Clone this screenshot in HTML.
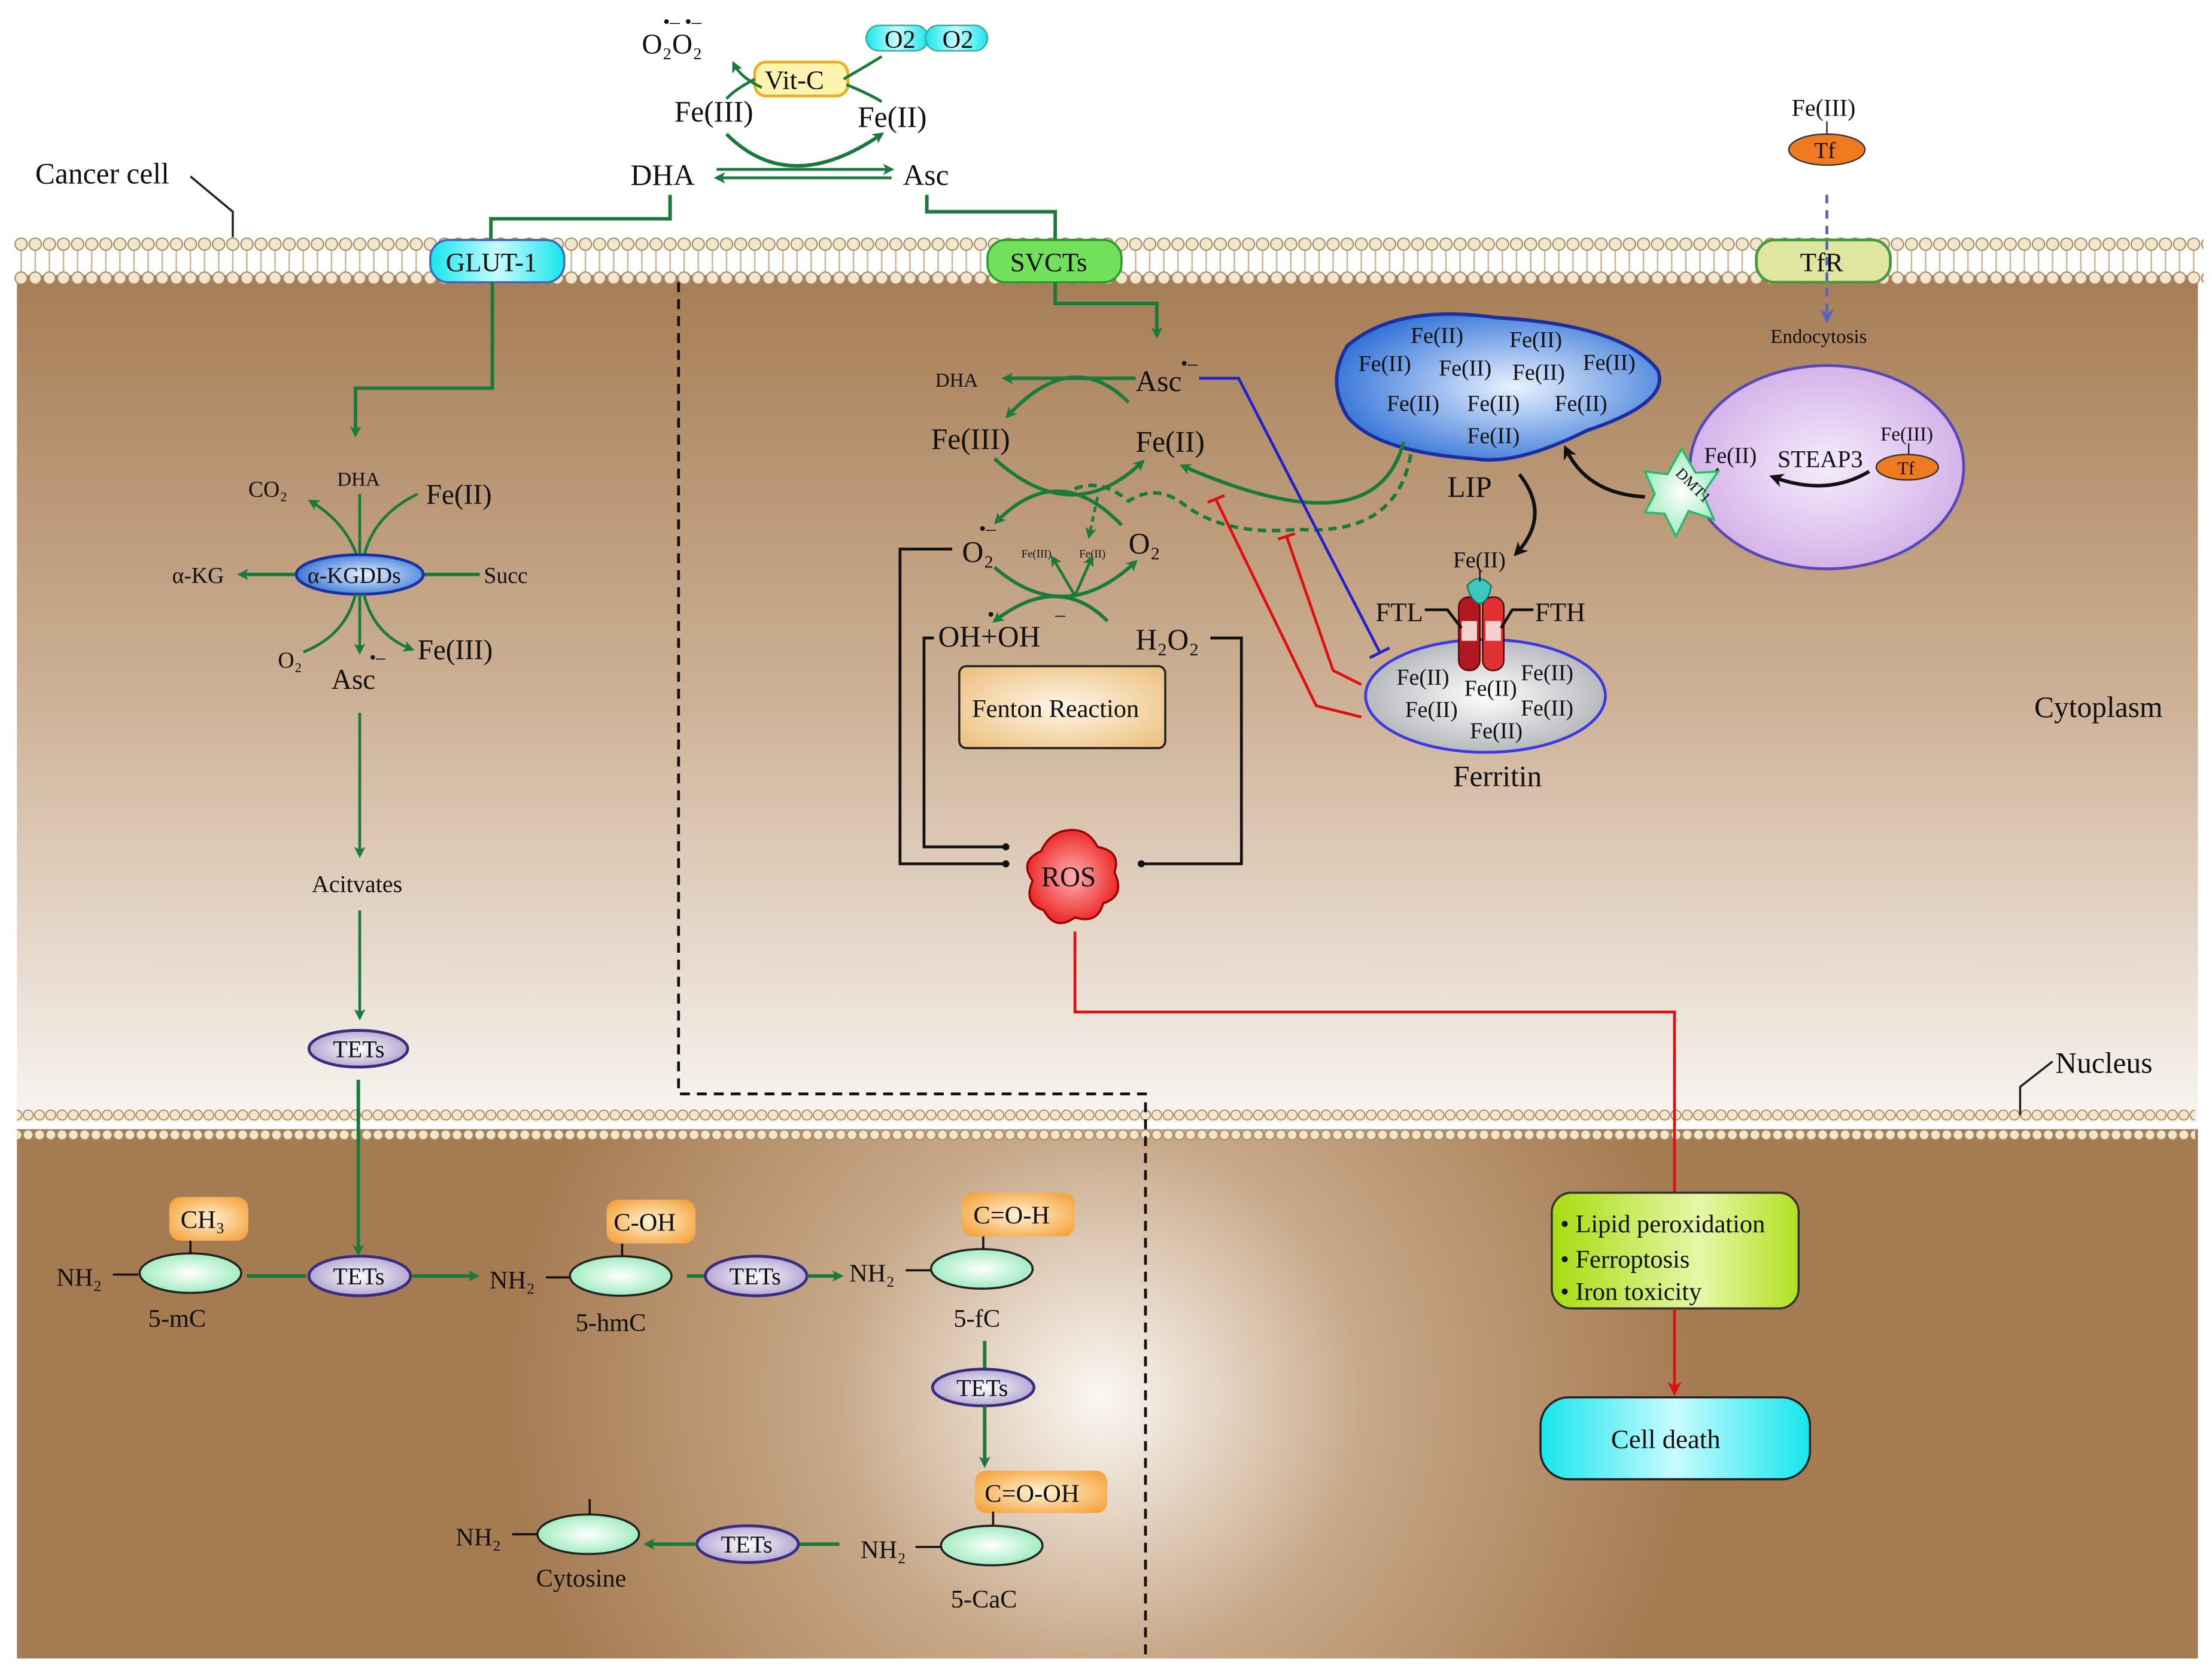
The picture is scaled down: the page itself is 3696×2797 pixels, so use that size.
<!DOCTYPE html>
<html><head><meta charset="utf-8"><style>
html,body{margin:0;padding:0;background:#fff}
svg{display:block}
text{font-family:"Liberation Serif","DejaVu Serif",serif;fill:#111}
</style></head><body>
<svg width="3696" height="2797" viewBox="0 0 1568 1186" preserveAspectRatio="none" xmlns="http://www.w3.org/2000/svg" font-family="Liberation Serif, DejaVu Serif, serif">
<defs>
<linearGradient id="cyto" x1="0" y1="0" x2="0" y2="1">
<stop offset="0" stop-color="#a67d55"/><stop offset="0.5" stop-color="#cdb196"/><stop offset="1" stop-color="#f8f5f1"/>
</linearGradient>
<radialGradient id="nuc" cx="780" cy="990" r="420" gradientUnits="userSpaceOnUse">
<stop offset="0" stop-color="#fbf7f2"/><stop offset="0.45" stop-color="#c7a888"/><stop offset="1" stop-color="#a57b52"/>
</radialGradient>
<pattern id="bead" x="0" y="168" width="10" height="34" patternUnits="userSpaceOnUse">
<line x1="5" y1="9" x2="5" y2="25" stroke="#c9b090" stroke-width="1"/>
<circle cx="5" cy="5" r="4.3" fill="#f3e6cf" stroke="#a88860" stroke-width="0.9"/>
<circle cx="5" cy="29" r="4.3" fill="#f3e6cf" stroke="#a88860" stroke-width="0.9"/>
</pattern>
<pattern id="bead2" x="0" y="786" width="8" height="22" patternUnits="userSpaceOnUse">
<circle cx="4" cy="4" r="3.5" fill="#f3e6cf" stroke="#a88860" stroke-width="0.8"/>
<circle cx="4" cy="18" r="3.5" fill="#f3e6cf" stroke="#a88860" stroke-width="0.8"/>
</pattern>
<radialGradient id="blue" cx="0.55" cy="0.5" r="0.6"><stop offset="0" stop-color="#e8f2ff"/><stop offset="1" stop-color="#2e6fd6"/></radialGradient>
<radialGradient id="grey" cx="0.5" cy="0.5" r="0.6"><stop offset="0" stop-color="#ffffff"/><stop offset="1" stop-color="#a9abb0"/></radialGradient>
<radialGradient id="purp" cx="0.5" cy="0.5" r="0.6"><stop offset="0" stop-color="#f5ecfb"/><stop offset="1" stop-color="#cfa8e6"/></radialGradient>
<radialGradient id="mint" cx="0.5" cy="0.5" r="0.6"><stop offset="0" stop-color="#ffffff"/><stop offset="1" stop-color="#8fe8b5"/></radialGradient>
<radialGradient id="tet" cx="0.5" cy="0.5" r="0.6"><stop offset="0" stop-color="#ffffff"/><stop offset="1" stop-color="#a596c8"/></radialGradient>
<radialGradient id="org" cx="0.5" cy="0.5" r="0.7"><stop offset="0" stop-color="#fff3d8"/><stop offset="1" stop-color="#f49a2a"/></radialGradient>
<radialGradient id="fent" cx="0.5" cy="0.5" r="0.7"><stop offset="0" stop-color="#fff6e6"/><stop offset="1" stop-color="#ebbd7a"/></radialGradient>
<radialGradient id="red" cx="0.5" cy="0.5" r="0.6"><stop offset="0" stop-color="#ffb0b0"/><stop offset="1" stop-color="#e81010"/></radialGradient>
<linearGradient id="lime" x1="0" y1="0" x2="1" y2="0"><stop offset="0" stop-color="#a8dc10"/><stop offset="0.6" stop-color="#e6f7a8"/><stop offset="1" stop-color="#b2e020"/></linearGradient>
<linearGradient id="cyan" x1="0" y1="0" x2="1" y2="0"><stop offset="0" stop-color="#16e6ec"/><stop offset="0.5" stop-color="#c8fbff"/><stop offset="1" stop-color="#16e6ec"/></linearGradient>
<marker id="ag" markerWidth="8" markerHeight="8" refX="6" refY="4" orient="auto" markerUnits="userSpaceOnUse"><path d="M0,0 L8,4 L0,8 L2,4z" fill="#197a3c"/></marker>
<marker id="ak" markerWidth="10" markerHeight="10" refX="7" refY="5" orient="auto" markerUnits="userSpaceOnUse"><path d="M0,0 L10,5 L0,10 L3,5z" fill="#111"/></marker>
<marker id="ar" markerWidth="10" markerHeight="10" refX="7" refY="5" orient="auto" markerUnits="userSpaceOnUse"><path d="M0,0 L10,5 L0,10 L3,5z" fill="#e01010"/></marker>
<marker id="ab" markerWidth="10" markerHeight="10" refX="7" refY="5" orient="auto" markerUnits="userSpaceOnUse"><path d="M0,0 L10,5 L0,10 L3,5z" fill="#5563c8"/></marker>
</defs>

<rect x="12" y="195" width="1546" height="600" fill="url(#cyto)"/>
<rect x="12" y="800" width="1546" height="375" fill="url(#nuc)"/>
<rect x="10" y="168" width="1552" height="34" fill="url(#bead)"/>
<rect x="12" y="786" width="1544" height="22" fill="url(#bead2)"/>

<text x="25" y="130" font-size="21">Cancer cell</text>
<polyline points="135,125 165,150 165,168" fill="none" stroke="#222" stroke-width="1.5"/>
<text x="455" y="38" font-size="20">O₂O₂</text>
<text x="470" y="20" font-size="14">•–  •–</text>
<rect x="614" y="18" width="44" height="18" rx="9" fill="url(#cyan)" stroke="#3a9"/>
<rect x="656" y="18" width="44" height="18" rx="9" fill="url(#cyan)" stroke="#3a9"/>
<text x="627" y="34" font-size="18">O2</text><text x="668" y="34" font-size="18">O2</text>
<rect x="535" y="44" width="66" height="24" rx="8" fill="#fff3b0" stroke="#e8b020" stroke-width="2"/>
<text x="542" y="63" font-size="19">Vit-C</text>
<path d="M540,62 Q525,55 520,45" fill="none" stroke="#197a3c" stroke-width="2" marker-end="url(#ag)"/>
<path d="M598,56 Q612,48 625,40" fill="none" stroke="#197a3c" stroke-width="2"/>
<path d="M535,56 Q520,64 515,70" fill="none" stroke="#197a3c" stroke-width="2"/>
<path d="M600,60 Q615,66 625,72" fill="none" stroke="#197a3c" stroke-width="2"/>
<text x="478" y="86" font-size="21">Fe(III)</text>
<text x="608" y="90" font-size="21">Fe(II)</text>
<path d="M515,95 Q560,140 625,95" fill="none" stroke="#197a3c" stroke-width="2.5" marker-end="url(#ag)"/>
<text x="447" y="131" font-size="21">DHA</text><text x="640" y="131" font-size="21">Asc</text>
<line x1="508" y1="120" x2="632" y2="120" stroke="#197a3c" stroke-width="2" marker-end="url(#ag)"/>
<line x1="632" y1="126" x2="508" y2="126" stroke="#197a3c" stroke-width="2" marker-end="url(#ag)"/>
<polyline points="475,138 475,155 348,155 348,172" fill="none" stroke="#197a3c" stroke-width="2.5"/>
<polyline points="657,138 657,150 748,150 748,172" fill="none" stroke="#197a3c" stroke-width="2.5"/>

<rect x="305" y="170" width="95" height="30" rx="13" fill="url(#cyan)" stroke="#46b" stroke-width="1.5"/>
<text x="316" y="192" font-size="19">GLUT-1</text>
<rect x="700" y="170" width="95" height="30" rx="13" fill="#72e05a" stroke="#2a9a2a" stroke-width="1.5"/>
<text x="716" y="192" font-size="19">SVCTs</text>
<rect x="1245" y="170" width="95" height="30" rx="13" fill="#dfe6a0" stroke="#4a9a3a" stroke-width="2"/>
<text x="1276" y="192" font-size="19">TfR</text>

<text x="1270" y="82" font-size="17">Fe(III)</text>
<line x1="1295" y1="86" x2="1295" y2="96" stroke="#222"/>
<ellipse cx="1295" cy="106" rx="27" ry="11" fill="#f07a20" stroke="#333"/>
<text x="1286" y="112" font-size="16">Tf</text>
<line x1="1295" y1="138" x2="1295" y2="226" stroke="#5563c8" stroke-width="2" stroke-dasharray="6,5" marker-end="url(#ab)"/>
<text x="1255" y="243" font-size="14">Endocytosis</text>
<ellipse cx="1295" cy="331" rx="97" ry="72" fill="url(#purp)" stroke="#5548b8" stroke-width="2"/>
<text x="1260" y="331" font-size="17">STEAP3</text>
<text x="1333" y="312" font-size="14">Fe(III)</text>
<line x1="1353" y1="314" x2="1353" y2="323" stroke="#222"/>
<ellipse cx="1352" cy="331" rx="22" ry="9" fill="#f07a20" stroke="#333"/>
<text x="1345" y="336" font-size="13">Tf</text>
<path d="M1325,334 Q1295,352 1257,338" fill="none" stroke="#111" stroke-width="2.5" marker-end="url(#ak)"/>
<text x="1208" y="328" font-size="16">Fe(II)</text>
<line x1="1218" y1="332" x2="1208" y2="343" stroke="#111" stroke-width="1.5"/>
<polygon points="1192,318 1202,335 1218,334 1207,350 1215,368 1197,362 1188,380 1180,364 1166,363 1173,350 1166,334 1182,336" fill="url(#mint)" stroke="#2ab86a" stroke-width="1.5"/>
<text x="1178" y="342" font-size="11" transform="rotate(45 1190 350)">DMT1</text>
<path d="M1166,352 Q1125,350 1110,318" fill="none" stroke="#111" stroke-width="2.5" marker-end="url(#ak)"/>

<path d="M955,245 Q990,215 1060,225 Q1150,230 1175,262 Q1185,285 1125,305 Q1075,330 1045,325 Q975,320 955,295 Q940,270 955,245z" fill="url(#blue)" stroke="#1a2fa0" stroke-width="2.5"/>
<g font-size="16">
<text x="1000" y="243">Fe(II)</text><text x="1070" y="246">Fe(II)</text>
<text x="963" y="263">Fe(II)</text><text x="1020" y="266">Fe(II)</text><text x="1072" y="269">Fe(II)</text><text x="1122" y="262">Fe(II)</text>
<text x="983" y="291">Fe(II)</text><text x="1040" y="291">Fe(II)</text><text x="1102" y="291">Fe(II)</text>
<text x="1040" y="314">Fe(II)</text></g>
<text x="1026" y="352" font-size="21">LIP</text>
<path d="M1077,336 Q1100,365 1075,392" fill="none" stroke="#111" stroke-width="2.5" marker-end="url(#ak)"/>

<ellipse cx="1053" cy="493" rx="85" ry="40" fill="url(#grey)" stroke="#3a3ae0" stroke-width="2"/>
<rect x="1034" y="423" width="15" height="52" rx="7" fill="#b01820" stroke="#500"/>
<rect x="1051" y="423" width="15" height="52" rx="7" fill="#e03030" stroke="#500"/>
<rect x="1036" y="440" width="11" height="14" fill="#f5d0d0"/><rect x="1053" y="440" width="11" height="14" fill="#f5d0d0"/>
<path d="M1040,415 Q1048,405 1057,415 Q1056,425 1049,428 Q1042,425 1040,415z" fill="#3cc8c0" stroke="#176"/>
<line x1="1049" y1="404" x2="1049" y2="412" stroke="#111"/>
<text x="1030" y="402" font-size="16">Fe(II)</text>
<text x="975" y="440" font-size="19">FTL</text><text x="1088" y="440" font-size="19">FTH</text>
<polyline points="1010,432 1026,432 1036,445" fill="none" stroke="#111" stroke-width="2"/>
<polyline points="1087,432 1072,432 1064,445" fill="none" stroke="#111" stroke-width="2"/>
<g font-size="16">
<text x="990" y="485">Fe(II)</text><text x="1038" y="493">Fe(II)</text><text x="1078" y="482">Fe(II)</text>
<text x="996" y="508">Fe(II)</text><text x="1078" y="507">Fe(II)</text><text x="1042" y="523">Fe(II)</text></g>
<text x="1030" y="557" font-size="21">Ferritin</text>

<polyline points="748,200 748,215 820,215 820,238" fill="none" stroke="#197a3c" stroke-width="2.5" marker-end="url(#ag)"/>
<text x="805" y="277" font-size="21">Asc</text><text x="837" y="262" font-size="14">•–</text>
<text x="663" y="274" font-size="14">DHA</text>
<line x1="805" y1="268" x2="712" y2="268" stroke="#197a3c" stroke-width="2.5" marker-end="url(#ag)"/>
<path d="M800,285 Q760,245 714,295" fill="none" stroke="#197a3c" stroke-width="2.5" marker-end="url(#ag)"/>
<text x="660" y="318" font-size="21">Fe(III)</text><text x="805" y="320" font-size="21">Fe(II)</text>
<path d="M705,325 Q760,375 810,327" fill="none" stroke="#197a3c" stroke-width="2.5" marker-end="url(#ag)"/>
<path d="M795,372 Q750,325 706,370" fill="none" stroke="#197a3c" stroke-width="2.5" marker-end="url(#ag)"/>
<text x="682" y="398" font-size="21">O₂</text><text x="694" y="379" font-size="14">•–</text>
<text x="800" y="392" font-size="21">O₂</text>
<text x="724" y="395" font-size="8">Fe(III)</text><text x="765" y="395" font-size="8">Fe(II)</text>
<path d="M705,402 Q755,445 805,398" fill="none" stroke="#197a3c" stroke-width="2.5" marker-end="url(#ag)"/>
<path d="M762,422 L746,395" stroke="#197a3c" stroke-width="2" marker-end="url(#ag)"/>
<path d="M762,422 L774,395" stroke="#197a3c" stroke-width="2" marker-end="url(#ag)"/>
<path d="M778,352 L772,380" stroke="#197a3c" stroke-width="2" stroke-dasharray="4,3" marker-end="url(#ag)"/>
<path d="M785,440 Q750,405 705,440" fill="none" stroke="#197a3c" stroke-width="2.5" marker-end="url(#ag)"/>
<text x="665" y="458" font-size="21">OH+OH</text><text x="700" y="440" font-size="14">•</text><text x="748" y="440" font-size="14">–</text>
<text x="805" y="460" font-size="21">H₂O₂</text>
<rect x="680" y="472" width="146" height="58" rx="5" fill="url(#fent)" stroke="#222" stroke-width="1.5"/>
<text x="689" y="508" font-size="18">Fenton Reaction</text>
<polyline points="675,389 638,389 638,612 712,612" fill="none" stroke="#111" stroke-width="2"/>
<polyline points="662,452 655,452 655,600 712,600" fill="none" stroke="#111" stroke-width="2"/>
<polyline points="858,452 880,452 880,612 810,612" fill="none" stroke="#111" stroke-width="2"/>
<circle cx="713" cy="600" r="2.5" fill="#111"/><circle cx="713" cy="612" r="2.5" fill="#111"/><circle cx="809" cy="612" r="2.5" fill="#111"/>
<path d="M760,588 Q772,588 778,600 Q795,603 790,618 Q798,635 782,640 Q778,655 762,650 Q748,660 740,645 Q725,640 732,624 Q722,610 738,603 Q745,588 760,588z" fill="url(#red)" stroke="#900" stroke-width="1.5"/>
<text x="738" y="628" font-size="20">ROS</text>

<path d="M995,313 Q975,390 838,330" fill="none" stroke="#197a3c" stroke-width="2.5" marker-end="url(#ag)"/>
<path d="M1000,322 Q990,380 920,375 Q870,380 840,358 Q820,342 800,355 Q780,338 760,347" fill="none" stroke="#197a3c" stroke-width="2.5" stroke-dasharray="6,4"/>
<polyline points="850,268 878,268 978,462" fill="none" stroke="#2222c8" stroke-width="2"/>
<line x1="971" y1="466" x2="985" y2="459" stroke="#2222c8" stroke-width="2"/>
<polyline points="965,508 933,500 862,354" fill="none" stroke="#e01010" stroke-width="2"/>
<line x1="856" y1="356" x2="868" y2="351" stroke="#e01010" stroke-width="2"/>
<polyline points="965,485 945,475 912,380" fill="none" stroke="#e01010" stroke-width="2"/>
<line x1="906" y1="382" x2="918" y2="378" stroke="#e01010" stroke-width="2"/>
<polyline points="762,660 762,717 1187,717 1187,845" fill="none" stroke="#e01010" stroke-width="2"/>
<rect x="1100" y="845" width="175" height="82" rx="14" fill="url(#lime)" stroke="#333" stroke-width="1.5"/>
<g font-size="18"><text x="1106" y="873">• Lipid peroxidation</text><text x="1106" y="898">• Ferroptosis</text><text x="1106" y="921">• Iron toxicity</text></g>
<line x1="1187" y1="927" x2="1187" y2="986" stroke="#e01010" stroke-width="2" marker-end="url(#ar)"/>
<rect x="1092" y="990" width="191" height="58" rx="20" fill="url(#cyan)" stroke="#222" stroke-width="1.5"/>
<text x="1142" y="1026" font-size="19">Cell death</text>
<text x="1442" y="508" font-size="21">Cytoplasm</text>
<text x="1457" y="760" font-size="21">Nucleus</text>
<polyline points="1455,752 1432,770 1432,790" fill="none" stroke="#222" stroke-width="1.5"/>

<polyline points="481,200 481,775 812,775 812,1175" fill="none" stroke="#111" stroke-width="2" stroke-dasharray="7,5"/>

<polyline points="349,200 349,275 252,275 252,308" fill="none" stroke="#197a3c" stroke-width="2.5" marker-end="url(#ag)"/>
<text x="239" y="344" font-size="14">DHA</text><text x="176" y="352" font-size="16">CO₂</text>
<text x="302" y="357" font-size="20">Fe(II)</text>
<text x="122" y="413" font-size="16">α-KG</text><text x="343" y="413" font-size="16">Succ</text>
<line x1="255" y1="350" x2="255" y2="394" stroke="#197a3c" stroke-width="2"/>
<path d="M253,394 Q245,370 220,355" fill="none" stroke="#197a3c" stroke-width="2" marker-end="url(#ag)"/>
<path d="M258,394 Q265,365 296,350" fill="none" stroke="#197a3c" stroke-width="2"/>
<line x1="210" y1="407" x2="170" y2="407" stroke="#197a3c" stroke-width="2.5" marker-end="url(#ag)"/>
<line x1="300" y1="407" x2="340" y2="407" stroke="#197a3c" stroke-width="2.5"/>
<ellipse cx="255" cy="407" rx="45" ry="14" fill="url(#blue)" stroke="#1a2fa0" stroke-width="2"/>
<text x="218" y="413" font-size="16">α-KGDDs</text>
<path d="M252,421 Q245,450 215,462" fill="none" stroke="#197a3c" stroke-width="2"/>
<line x1="255" y1="421" x2="255" y2="462" stroke="#197a3c" stroke-width="2" marker-end="url(#ag)"/>
<path d="M258,421 Q265,450 292,460" fill="none" stroke="#197a3c" stroke-width="2" marker-end="url(#ag)"/>
<text x="197" y="473" font-size="16">O₂</text><text x="235" y="488" font-size="20">Asc</text><text x="262" y="470" font-size="13">•–</text>
<text x="296" y="467" font-size="20">Fe(III)</text>
<line x1="255" y1="505" x2="255" y2="606" stroke="#197a3c" stroke-width="2" marker-end="url(#ag)"/>
<text x="221" y="632" font-size="17">Acitvates</text>
<line x1="255" y1="645" x2="255" y2="721" stroke="#197a3c" stroke-width="2" marker-end="url(#ag)"/>
<ellipse cx="254" cy="743" rx="35" ry="13" fill="url(#tet)" stroke="#3a2a80" stroke-width="2"/>
<text x="236" y="749" font-size="17">TETs</text>
<line x1="254" y1="765" x2="254" y2="888" stroke="#197a3c" stroke-width="2.5" marker-end="url(#ag)"/>

<g font-size="18">
<text x="40" y="911">NH₂</text><line x1="80" y1="903" x2="98" y2="903" stroke="#111" stroke-width="1.5"/>
<ellipse cx="135" cy="902" rx="36" ry="14" fill="url(#mint)" stroke="#222" stroke-width="1.5"/>
<line x1="135" y1="878" x2="135" y2="888" stroke="#111" stroke-width="1.5"/>
<rect x="120" y="848" width="56" height="31" rx="8" fill="url(#org)"/><text x="128" y="870">CH₃</text>
<text x="105" y="940">5-mC</text>
<line x1="175" y1="904" x2="217" y2="904" stroke="#197a3c" stroke-width="2.5"/>
<ellipse cx="255" cy="904" rx="36" ry="14" fill="url(#tet)" stroke="#3a2a80" stroke-width="2"/><text x="236" y="910" font-size="17">TETs</text>
<line x1="292" y1="904" x2="338" y2="904" stroke="#197a3c" stroke-width="2.5" marker-end="url(#ag)"/>
<text x="347" y="913">NH₂</text><line x1="387" y1="905" x2="404" y2="905" stroke="#111" stroke-width="1.5"/>
<ellipse cx="440" cy="904" rx="36" ry="14" fill="url(#mint)" stroke="#222" stroke-width="1.5"/>
<line x1="441" y1="880" x2="441" y2="890" stroke="#111" stroke-width="1.5"/>
<rect x="430" y="850" width="63" height="31" rx="8" fill="url(#org)"/><text x="435" y="872">C-OH</text>
<text x="408" y="943">5-hmC</text>
<line x1="487" y1="904" x2="500" y2="904" stroke="#197a3c" stroke-width="2.5"/>
<ellipse cx="536" cy="904" rx="36" ry="14" fill="url(#tet)" stroke="#3a2a80" stroke-width="2"/><text x="517" y="910" font-size="17">TETs</text>
<line x1="572" y1="904" x2="596" y2="904" stroke="#197a3c" stroke-width="2.5" marker-end="url(#ag)"/>
<text x="602" y="908">NH₂</text><line x1="642" y1="900" x2="660" y2="900" stroke="#111" stroke-width="1.5"/>
<ellipse cx="696" cy="899" rx="36" ry="14" fill="url(#mint)" stroke="#222" stroke-width="1.5"/>
<line x1="697" y1="875" x2="697" y2="885" stroke="#111" stroke-width="1.5"/>
<rect x="682" y="845" width="80" height="31" rx="8" fill="url(#org)"/><text x="690" y="867">C=O-H</text>
<text x="676" y="940">5-fC</text>
<line x1="698" y1="950" x2="698" y2="970" stroke="#197a3c" stroke-width="2.5"/>
<ellipse cx="697" cy="983" rx="36" ry="13" fill="url(#tet)" stroke="#3a2a80" stroke-width="2"/><text x="678" y="989" font-size="17">TETs</text>
<line x1="698" y1="996" x2="698" y2="1038" stroke="#197a3c" stroke-width="2.5" marker-end="url(#ag)"/>
<rect x="691" y="1042" width="94" height="30" rx="8" fill="url(#org)"/><text x="698" y="1064">C=O-OH</text>
<line x1="704" y1="1071" x2="704" y2="1082" stroke="#111" stroke-width="1.5"/>
<ellipse cx="703" cy="1095" rx="36" ry="14" fill="url(#mint)" stroke="#222" stroke-width="1.5"/>
<text x="610" y="1104">NH₂</text><line x1="649" y1="1096" x2="667" y2="1096" stroke="#111" stroke-width="1.5"/>
<text x="674" y="1139">5-CaC</text>
<line x1="595" y1="1094" x2="566" y2="1094" stroke="#197a3c" stroke-width="2.5"/>
<ellipse cx="530" cy="1094" rx="36" ry="13" fill="url(#tet)" stroke="#3a2a80" stroke-width="2"/><text x="511" y="1100" font-size="17">TETs</text>
<line x1="494" y1="1094" x2="458" y2="1094" stroke="#197a3c" stroke-width="2.5" marker-end="url(#ag)"/>
<ellipse cx="417" cy="1087" rx="36" ry="14" fill="url(#mint)" stroke="#222" stroke-width="1.5"/>
<line x1="418" y1="1062" x2="418" y2="1073" stroke="#111" stroke-width="1.5"/>
<text x="323" y="1095">NH₂</text><line x1="363" y1="1087" x2="381" y2="1087" stroke="#111" stroke-width="1.5"/>
<text x="380" y="1124">Cytosine</text>
</g>
</svg>
</body></html>
